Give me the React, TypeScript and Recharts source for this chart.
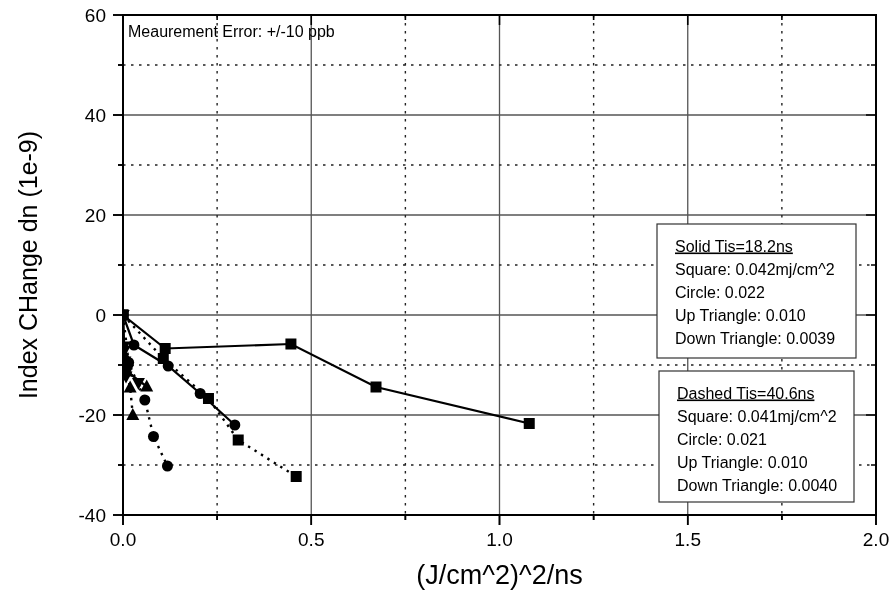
import React from 'react';
import * as Recharts from 'recharts';
import { LineChart, Line, XAxis, YAxis, CartesianGrid, ReferenceArea } from 'recharts';

const RC: any = Recharts;
const usePlotAreaSafe: () => any = RC.usePlotArea || RC.useOffset || (() => null);

const FONT = '"Liberation Sans", Arial, Helvetica, sans-serif';

// Axis ticks and labels
const X_DOMAIN = [0, 2];
const Y_DOMAIN = [-40, 60];
const xMajor = [0, 0.5, 1, 1.5, 2];
const xMinor = [0.25, 0.75, 1.25, 1.75];
const yMajor = [-40, -20, 0, 20, 40, 60];
const yMinor = [-30, -10, 10, 30, 50];
const xTickLabels = ['0.0', '0.5', '1.0', '1.5', '2.0'];
const yTickLabels = ['-40', '-20', '0', '20', '40', '60'];
const xGridMajor = [0.5, 1, 1.5];
const yGridMajor = [-20, 0, 20, 40];

const xTitle = '(J/cm^2)^2/ns';
const yTitle = 'Index CHange dn (1e-9)';
const noteText = 'Meaurement Error: +/-10 ppb';

// Solid lines: Tis = 18.2 ns
const solidSquareX = [0, 0.112, 0.446, 0.672, 1.079];
const solidSquareY = [0, -6.7, -5.8, -14.4, -21.7];
const solidCircleX = [0, 0.029, 0.12, 0.205, 0.297];
const solidCircleY = [0, -6.0, -10.2, -15.7, -22.0];
const solidUpX = [0, 0.004, 0.01, 0.063];
const solidUpY = [0, -8.0, -11.3, -14.3];
const solidDownX = [0, 0.002, 0.005, 0.008];
const solidDownY = [0, -6.3, -9.3, -12.3];

// Dashed lines: Tis = 40.6 ns
const dashSquareX = [0, 0.107, 0.227, 0.306, 0.46];
const dashSquareY = [0, -8.7, -16.7, -25.0, -32.3];
const dashCircleX = [0, 0.015, 0.058, 0.081, 0.118];
const dashCircleY = [0, -9.5, -17.0, -24.3, -30.2];
const dashUpX = [0, 0.006, 0.019, 0.026];
const dashUpY = [0, -10.3, -14.5, -20.0];
const dashDownX = [0, 0.003, 0.012, 0.041];
const dashDownY = [0, -7.2, -11.0, -13.6];

const legendSolid = ['Solid Tis=18.2ns', 'Square: 0.042mj/cm^2', 'Circle: 0.022', 'Up Triangle: 0.010', 'Down Triangle: 0.0039'];
const legendDashed = ['Dashed Tis=40.6ns', 'Square: 0.041mj/cm^2', 'Circle: 0.021', 'Up Triangle: 0.010', 'Down Triangle: 0.0040'];

const zip = (xs: number[], ys: number[]) => xs.map((x, i) => ({ x, y: ys[i] }));

const xAll = [...xMajor, ...xMinor].sort((a, b) => a - b);
const yAll = [...yMajor, ...yMinor].sort((a, b) => a - b);

const MAJOR_LEN = 10;
const MINOR_LEN = 5;

const renderBottomTick = (p: any) => {
  const v = p.payload.value;
  const idx = xMajor.indexOf(v);
  const len = idx >= 0 ? MAJOR_LEN : MINOR_LEN;
  return (
    <g key={`bt-${v}`}>
      <path d={`M${p.x},${p.y}v${len}`} stroke="#000" strokeWidth={1.6} fill="none" />
      {idx >= 0 && (
        <text x={p.x} y={p.y + 31} textAnchor="middle" fontSize={19} fill="#000" fontFamily={FONT}>
          {xTickLabels[idx]}
        </text>
      )}
    </g>
  );
};

const renderLeftTick = (p: any) => {
  const v = p.payload.value;
  const idx = yMajor.indexOf(v);
  const len = idx >= 0 ? MAJOR_LEN : MINOR_LEN;
  return (
    <g key={`lt-${v}`}>
      <path d={`M${p.x},${p.y}h${-len}`} stroke="#000" strokeWidth={1.6} fill="none" />
      {idx >= 0 && (
        <text x={p.x - 17} y={p.y + 7} textAnchor="end" fontSize={19} fill="#000" fontFamily={FONT}>
          {yTickLabels[idx]}
        </text>
      )}
    </g>
  );
};

// Frame with mirrored tick marks on all four sides, placed from the plot area
function Frame() {
  const a = usePlotAreaSafe();
  if (!a) return null;
  const left = a.x ?? a.left;
  const top = a.y ?? a.top;
  const w = a.width;
  const h = a.height;
  if (![left, top, w, h].every((n) => typeof n === 'number' && isFinite(n))) return null;
  const sx = (v: number) => left + ((v - X_DOMAIN[0]) / (X_DOMAIN[1] - X_DOMAIN[0])) * w;
  const sy = (v: number) => top + ((Y_DOMAIN[1] - v) / (Y_DOMAIN[1] - Y_DOMAIN[0])) * h;
  let d = '';
  xAll.forEach((v) => {
    const len = xMajor.indexOf(v) >= 0 ? MAJOR_LEN : MINOR_LEN;
    const X = sx(v);
    d += `M${X},${top + h}v${len}M${X},${top}v${len}`;
  });
  yAll.forEach((v) => {
    const len = yMajor.indexOf(v) >= 0 ? MAJOR_LEN : MINOR_LEN;
    const Y = sy(v);
    d += `M${left},${Y}h${-len}M${left + w},${Y}h${-len}`;
  });
  return (
    <g className="plot-frame">
      <path d={d} stroke="#000" strokeWidth={1.6} fill="none" />
      <path d={`M${left},${top}H${left + w}V${top + h}H${left}Z`} stroke="#000" strokeWidth={2} fill="none" />
    </g>
  );
}

const squareDot = (p: any) => (
  <rect key={`sq-${p.index}`} x={p.cx - 5.5} y={p.cy - 5.5} width={11} height={11} fill="#000" />
);
const circleDot = (p: any) => (
  <circle key={`ci-${p.index}`} cx={p.cx} cy={p.cy} r={5.5} fill="#000" />
);
const upDot = (p: any) => (
  <path key={`up-${p.index}`} d={`M${p.cx},${p.cy - 7}L${p.cx + 6.5},${p.cy + 5}L${p.cx - 6.5},${p.cy + 5}Z`} fill="#000" />
);
const downDot = (p: any) => (
  <path key={`dn-${p.index}`} d={`M${p.cx},${p.cy + 7}L${p.cx + 6.5},${p.cy - 5}L${p.cx - 6.5},${p.cy - 5}Z`} fill="#000" />
);

const series = [
  { name: 'solidSquare', data: zip(solidSquareX, solidSquareY), dot: squareDot, dashed: false },
  { name: 'solidCircle', data: zip(solidCircleX, solidCircleY), dot: circleDot, dashed: false },
  { name: 'solidUp', data: zip(solidUpX, solidUpY), dot: upDot, dashed: false },
  { name: 'solidDown', data: zip(solidDownX, solidDownY), dot: downDot, dashed: false },
  { name: 'dashSquare', data: zip(dashSquareX, dashSquareY), dot: squareDot, dashed: true },
  { name: 'dashCircle', data: zip(dashCircleX, dashCircleY), dot: circleDot, dashed: true },
  { name: 'dashUp', data: zip(dashUpX, dashUpY), dot: upDot, dashed: true },
  { name: 'dashDown', data: zip(dashDownX, dashDownY), dot: downDot, dashed: true },
];

const XTitle = (props: any) => {
  const vb = props.viewBox || {};
  return (
    <text x={vb.x + vb.width / 2} y={vb.y + 69} textAnchor="middle" fontSize={27} fill="#000" fontFamily={FONT}>
      {xTitle}
    </text>
  );
};

const YTitle = (props: any) => {
  const vb = props.viewBox || {};
  const cx = vb.x + 37;
  const cy = vb.y + vb.height / 2;
  return (
    <text x={cx} y={cy} transform={`rotate(-90 ${cx} ${cy})`} textAnchor="middle" fontSize={25} fill="#000" fontFamily={FONT}>
      {yTitle}
    </text>
  );
};

const LegendBox = ({ left, top, width, height, lines }: any) => (
  <g>
    <rect x={left} y={top} width={width} height={height} fill="#fff" stroke="#333" strokeWidth={1.2} />
    {lines.map((t: string, i: number) => (
      <text
        key={t}
        x={left + 18}
        y={top + 27.5 + i * 23}
        fontSize={16}
        fill="#000"
        fontFamily={FONT}
        textDecoration={i === 0 ? 'underline' : undefined}
      >
        {t}
      </text>
    ))}
  </g>
);

export default function App() {
  return (
    <div style={{ position: 'fixed', left: 0, top: 0, width: 892, height: 592, fontFamily: FONT }}>
      <LineChart width={892} height={592} margin={{ top: 15, right: 16, bottom: 0, left: 0 }}>
        <CartesianGrid
          xAxisId="b"
          yAxisId="l"
          verticalValues={xGridMajor}
          horizontalValues={yGridMajor}
          stroke="#555"
          strokeWidth={1.3}
        />
        <CartesianGrid
          xAxisId="b"
          yAxisId="l"
          verticalValues={xMinor}
          horizontalValues={yMinor}
          stroke="#222"
          strokeWidth={1.4}
          strokeDasharray="2.5 5.5"
        />
        <XAxis
          xAxisId="b"
          type="number"
          dataKey="x"
          domain={X_DOMAIN}
          allowDataOverflow
          ticks={xAll}
          interval={0}
          height={77}
          tickSize={0}
          tickMargin={0}
          tickLine={false}
          tick={renderBottomTick}
          axisLine={{ stroke: '#000', strokeWidth: 2 }}
          label={{ content: XTitle }}
        />
        <YAxis
          yAxisId="l"
          type="number"
          domain={Y_DOMAIN}
          allowDataOverflow
          ticks={yAll}
          interval={0}
          width={123}
          tickSize={0}
          tickMargin={0}
          tickLine={false}
          tick={renderLeftTick}
          axisLine={{ stroke: '#000', strokeWidth: 2 }}
          label={{ content: YTitle }}
        />
        <ReferenceArea
          xAxisId="b"
          yAxisId="l"
          x1={X_DOMAIN[0]}
          x2={X_DOMAIN[1]}
          y1={Y_DOMAIN[0]}
          y2={Y_DOMAIN[1]}
          fill="none"
          fillOpacity={0}
          stroke="#000"
          strokeWidth={2}
          strokeOpacity={1}
          ifOverflow="visible"
        />
        {series.map((s) => (
          <Line
            key={s.name}
            xAxisId="b"
            yAxisId="l"
            data={s.data}
            dataKey="y"
            type="linear"
            stroke="#000"
            strokeWidth={s.dashed ? 2.4 : 2.2}
            strokeDasharray={s.dashed ? '2.4 5.2' : undefined}
            dot={s.dot}
            activeDot={false}
            isAnimationActive={false}
            legendType="none"
          />
        ))}
        <Frame />
      </LineChart>
      <svg width={892} height={592} style={{ position: 'absolute', left: 0, top: 0, pointerEvents: 'none' }}>
        <text x={128} y={37} fontSize={16} fill="#000" fontFamily={FONT}>{noteText}</text>
        <LegendBox left={657} top={224} width={199} height={134} lines={legendSolid} />
        <LegendBox left={659} top={371} width={195} height={131} lines={legendDashed} />
      </svg>
    </div>
  );
}
